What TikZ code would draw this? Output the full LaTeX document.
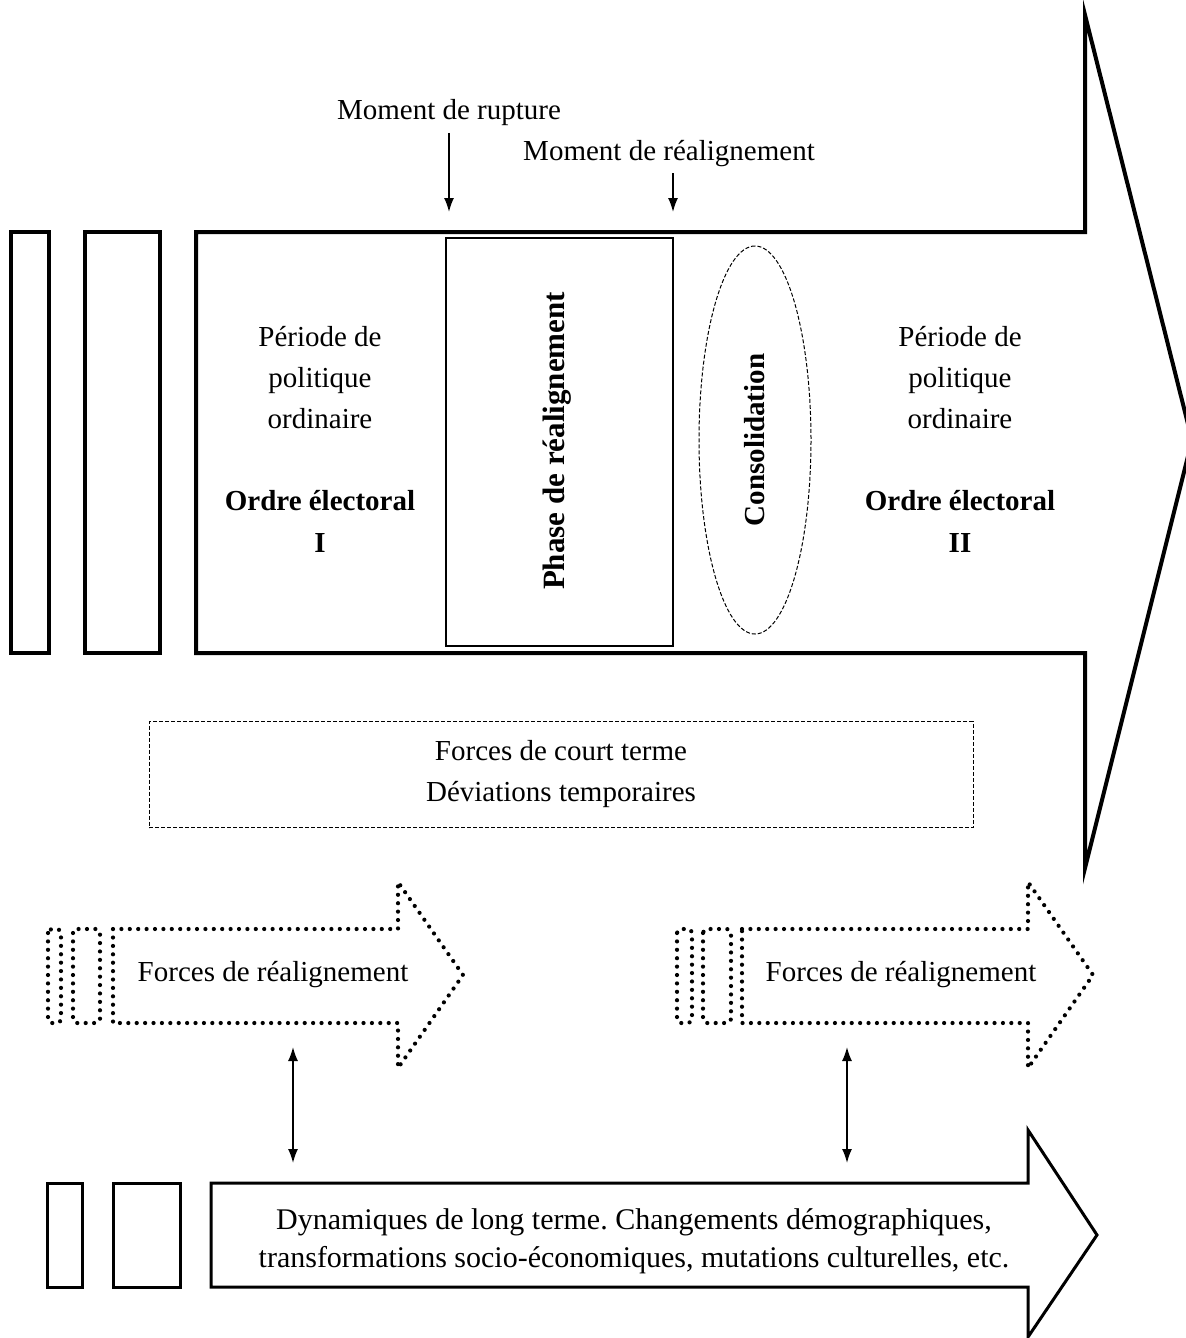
\documentclass[tikz,border=0pt]{standalone}
\usepackage{fontspec}
\setmainfont{Liberation Serif}
\usetikzlibrary{arrows.meta,shapes.geometric}
\frenchspacing
\begin{document}
\begin{tikzpicture}[x=0.5pt,y=-0.5pt,
  font=\fontsize{14.5}{20.5}\selectfont,
  bigline/.style={line width=2pt, line join=miter},
  midline/.style={line width=1.5pt, line join=miter},
  dotline/.style={line width=2.1pt, dash pattern=on 0pt off 4.2pt, line cap=round, line join=round},
  thindash/.style={line width=0.5pt, dash pattern=on 2pt off 1pt},
  conn/.style={line width=0.8pt, -{Latex[length=7pt,width=5pt]}},
  dconn/.style={line width=0.8pt, {Latex[length=7pt,width=5pt]}-{Latex[length=7pt,width=5pt]}},
  lbl/.style={inner sep=0pt, align=center}
]
\useasboundingbox (0,0) rectangle (1186,1338);
\fill[white] (0,0) rectangle (1186,1338);

% main arrow with its two tail bars
\draw[bigline] (11,232) rectangle (49,653);
\draw[bigline] (85,232) rectangle (160,653);
\draw[bigline] (196,232) -- (1085,232) -- (1085,15) -- (1192,440) -- (1085,868) -- (1085,653) -- (196,653) -- cycle;

% texts in the main arrow
\node[lbl] (p1) at (320,378) {Période de\\politique\\ordinaire};
\node[lbl, font=\fontsize{14.5}{21}\selectfont\bfseries] (o1) at (320,521) {Ordre électoral\\I};
\node[lbl] (p2) at (960,378) {Période de\\politique\\ordinaire};
\node[lbl, font=\fontsize{14.5}{21}\selectfont\bfseries] (o2) at (960,521) {Ordre électoral\\II};

% phase box
\node[draw, line width=1.3pt, minimum width=113.5pt, minimum height=204pt, inner sep=0pt] (phase) at (559.5,442) {};
\node[lbl, rotate=90, font=\fontsize{15.5}{20.5}\selectfont\bfseries] (phaset) at (557,441) {Phase de réalignement};

% consolidation ellipse
\node[draw, ellipse, thindash, rotate=90, minimum width=194pt, minimum height=56pt, inner sep=0pt,
      font=\fontsize{14.5}{20.5}\selectfont\bfseries] (cons) at (755,440) {Consolidation};

% moments
\node[lbl] (mr) at (449,113) {Moment de rupture};
\coordinate (mra) at (449,133);
\coordinate (mrb) at (449,212);
\draw[conn] (mra) -- (mrb);
\node[lbl] (mre) at (669,154) {Moment de réalignement};
\coordinate (mrea) at (673,173);
\coordinate (mreb) at (673,212);
\draw[conn] (mrea) -- (mreb);

% short term forces
\node[draw, thindash, minimum width=412pt, minimum height=53pt, align=center, inner sep=0pt] (court) at (561,774.5)
  {Forces de court terme\\Déviations temporaires};

% dotted arrows
\draw[dotline, rounded corners=2pt] (48,929) rectangle (61,1023);
\draw[dotline, rounded corners=2pt] (73,929) rectangle (100,1023);
\draw[dotline] (113,929) -- (398,929) -- (398,882) -- (463,975) -- (398,1068) -- (398,1023) -- (113,1023) -- cycle;
\node[lbl] (fr1) at (273,975) {Forces de réalignement};

\draw[dotline, rounded corners=2pt] (677,929) rectangle (692,1023);
\draw[dotline, rounded corners=2pt] (703,929) rectangle (731,1023);
\draw[dotline] (742,929) -- (1028,929) -- (1028,882) -- (1093,975) -- (1028,1068) -- (1028,1023) -- (742,1023) -- cycle;
\node[lbl] (fr2) at (901,975) {Forces de réalignement};

% double arrows
\coordinate (d1a) at (293,1047);
\coordinate (d1b) at (293,1163);
\draw[dconn] (d1a) -- (d1b);
\coordinate (d2a) at (847,1047);
\coordinate (d2b) at (847,1163);
\draw[dconn] (d2a) -- (d2b);

% long term arrow
\draw[midline] (47,1183) rectangle (82,1287);
\draw[midline] (113,1183) rectangle (180,1287);
\draw[midline] (211,1183) -- (1028,1183) -- (1028,1130) -- (1097,1235) -- (1028,1337) -- (1028,1287) -- (211,1287) -- cycle;
\node[lbl, font=\fontsize{15}{19}\selectfont] (dyn) at (634,1241)
  {Dynamiques de long terme. Changements démographiques,\\transformations socio-économiques, mutations culturelles, etc.};
\end{tikzpicture}
\end{document}
